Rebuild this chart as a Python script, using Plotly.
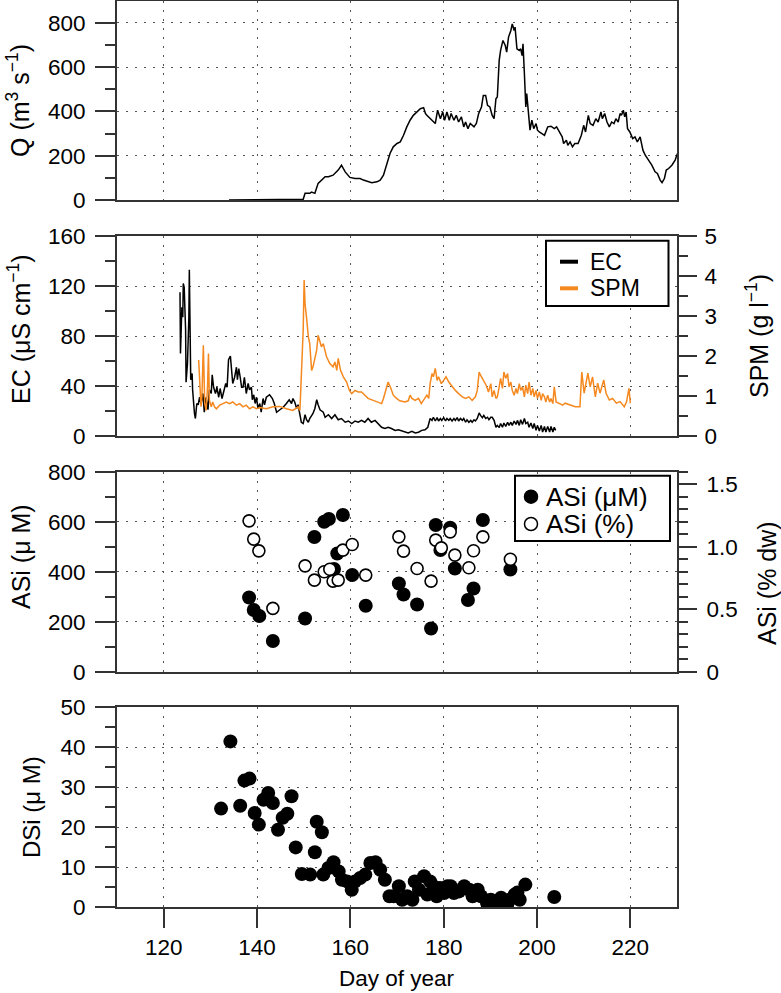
import plotly.graph_objects as go

# ---------------- data ----------------
q_day = [134.0, 149.7, 149.9, 150.3, 151.3, 151.7, 152.4, 153.1, 153.8, 154.6, 155.3, 156.3, 157.4, 158.1,
         158.9, 159.9, 161.0, 162.1, 162.8, 163.9, 164.6, 165.7, 166.4, 167.1, 167.8, 168.5, 169.2, 170.0,
         170.7, 171.4, 172.1, 172.8, 173.5, 174.3, 175.0, 175.7, 176.1, 176.4, 177.1, 177.8, 178.2, 178.7,
         179.3, 179.8, 180.2, 180.7, 181.2, 181.6, 182.2, 182.7, 183.2, 183.8, 184.3, 184.7, 185.2, 185.7,
         186.5, 187.0, 187.5, 188.1, 188.5, 189.0, 189.4, 189.9, 190.4, 190.8, 191.2, 191.5, 191.9, 192.2,
         192.7, 193.2, 193.5, 193.9, 194.4, 194.7, 195.1, 195.3, 195.7, 196.2, 196.5, 196.8, 197.0, 197.3,
         197.6, 197.8, 198.1, 198.5, 198.9, 199.3, 199.8, 200.1, 200.5, 201.1, 201.6, 202.3, 203.0, 203.7,
         204.2, 204.8, 205.4, 205.7, 206.3, 206.6, 207.1, 207.6, 208.1, 208.8, 209.5, 210.0, 210.4, 211.0,
         211.4, 212.0, 212.6, 213.1, 213.7, 214.0, 214.5, 215.0, 215.5, 216.0, 216.5, 216.9, 217.4, 217.8,
         218.1, 218.5, 218.8, 219.1, 219.4, 219.9, 220.5, 221.0, 221.5, 222.1, 222.7, 223.2, 223.9, 224.6,
         225.3, 225.8, 226.4, 226.8, 227.3, 227.7, 228.2, 228.9, 229.6, 230.1]
q_val = [0, 0, 3, 30, 30, 36, 30, 75, 90, 105, 105, 112, 135, 157,
         127, 102, 97, 97, 90, 82, 78, 82, 90, 112, 165, 210, 240, 255,
         262, 292, 330, 360, 382, 397, 412, 417, 390, 382, 367, 352, 345, 405,
         367, 397, 360, 397, 360, 390, 360, 382, 352, 375, 330, 352, 322, 345,
         330, 345, 390, 420, 472, 472, 427, 420, 382, 367, 457, 465, 630, 675,
         720, 697, 667, 735, 765, 795, 765, 780, 682, 675, 682, 652, 705, 570,
         420, 480, 390, 315, 360, 322, 345, 315, 307, 300, 292, 330, 333, 322,
         330, 307, 285, 255, 270, 247, 262, 240, 255, 255, 292, 337, 307, 382,
         345, 337, 367, 352, 397, 367, 390, 352, 330, 352, 345, 367, 352, 390,
         382, 405, 375, 397, 322, 307, 277, 285, 262, 285, 225, 202, 180, 157,
         127, 120, 90, 78, 97, 135, 142, 157, 180, 210]

ec_day = [123.5, 123.6, 123.9, 124.1, 124.2, 124.4, 124.7, 124.8, 125.1, 125.4, 125.5, 125.7, 125.8, 126.1,
          126.2, 126.6, 126.8, 127.1, 127.4, 127.7, 128.0, 128.4, 128.7, 129.1, 129.5, 129.8, 130.2, 130.4,
          130.7, 131.1, 131.4, 131.8, 132.1, 132.5, 132.9, 133.3, 133.6, 133.9, 134.3, 134.6, 134.8, 135.2,
          135.6, 135.8, 136.1, 136.4, 136.7, 137.0, 137.3, 137.7, 138.1, 138.4, 138.8, 139.0, 139.3, 139.6,
          139.9, 140.2, 140.6, 140.9, 141.3, 141.6, 142.0, 142.7, 143.3, 143.7, 144.2, 144.9, 145.6, 146.3,
          146.9, 147.4, 147.7, 148.1, 148.5, 148.8, 149.2, 149.5, 149.9, 150.3, 150.6, 151.0, 151.3, 152.0,
          152.4, 152.8, 153.1, 153.5, 154.2, 154.6, 155.3, 156.0, 156.7, 157.4, 158.1, 158.9, 159.6, 160.3,
          161.0, 161.7, 162.4, 163.1, 163.8, 164.5, 165.3, 166.0, 166.7, 167.4, 168.1, 168.8, 169.6, 170.3,
          171.0, 171.7, 172.4, 173.2, 173.9, 174.6, 175.3, 176.0, 176.6, 177.1, 177.5, 177.8, 178.2, 178.6,
          178.9, 179.3, 179.6, 180.0, 180.4, 180.7, 181.1, 181.4, 181.8, 182.2, 182.5, 182.9, 183.2, 183.6,
          184.0, 184.3, 184.7, 185.0, 185.4, 185.8, 186.1, 186.5, 186.8, 187.2, 187.6, 187.9, 188.3, 188.6,
          189.0, 189.4, 189.7, 190.1, 190.4, 190.8, 191.2, 191.5, 191.9, 192.2, 192.6, 192.9, 193.3, 193.7,
          194.0, 194.4, 194.7, 195.1, 195.5, 195.8, 196.2, 196.5, 196.9, 197.3, 197.6, 198.0, 198.3, 198.7,
          199.1, 199.4, 199.8, 200.1, 200.5, 200.9, 201.2, 201.6, 201.9, 202.3, 202.7, 203.0, 203.4, 203.7,
          204.0]
ec_val = [115, 66, 103, 95, 122, 119, 85, 43, 58, 95, 133, 85, 45, 50,
          37, 18, 14, 26, 25, 31, 26, 34, 19, 31, 21, 37, 34, 49,
          39, 34, 39, 31, 38, 30, 37, 42, 39, 61, 64, 53, 42, 47,
          55, 45, 54, 47, 39, 39, 47, 34, 42, 37, 39, 29, 33, 26,
          31, 22, 26, 19, 30, 25, 31, 33, 30, 26, 19, 21, 23, 26,
          29, 26, 30, 27, 22, 25, 17, 11, 10, 17, 13, 11, 14, 18,
          22, 29, 25, 21, 19, 15, 17, 14, 17, 13, 14, 11, 12, 10,
          12, 11, 12.5, 11, 14, 11, 12.5, 10, 7, 6, 7, 6, 4.5, 5,
          4, 3, 2.4, 3.7, 2.4, 3, 4.5, 5, 7, 14, 12.5, 15, 12, 14.7,
          12, 14, 12.5, 14.7, 12, 14, 12.5, 14, 12, 14, 12.5, 14.7, 12, 14,
          12.5, 14, 11, 13, 11, 12.5, 11, 13, 12, 14, 18.4, 16.5, 14.7, 16.5,
          14, 15, 13, 15, 15, 12.5, 7, 8.5, 6.7, 10, 7, 10.4, 7.7, 11,
          8.5, 11, 8.5, 12, 9.3, 12.5, 8.5, 13, 9.3, 14, 10, 11, 7, 10.4,
          6, 10, 4.5, 8.5, 4, 8.5, 3.2, 7.7, 3.2, 7.7, 3.2, 7.7, 3.2, 7,
          4.5]

spm_day = [127.5, 127.7, 128.0, 128.2, 128.5, 128.8, 129.1, 129.4, 129.6, 129.8, 130.2, 130.5, 130.9, 131.3,
           132.0, 132.7, 133.4, 134.1, 134.8, 135.6, 136.3, 137.0, 137.7, 138.4, 139.1, 139.9, 140.6, 142.0,
           143.4, 144.9, 146.3, 147.7, 148.8, 149.2, 149.5, 149.9, 150.1, 150.3, 150.6, 151.0, 151.3, 151.7,
           152.0, 152.4, 152.8, 153.1, 153.5, 153.8, 154.2, 154.9, 155.6, 156.3, 156.7, 157.1, 157.4, 157.9,
           158.5, 159.2, 159.8, 160.3, 161.0, 161.7, 162.4, 163.1, 163.8, 164.9, 166.0, 166.7, 167.1, 167.6,
           168.1, 168.7, 169.2, 169.9, 170.6, 171.7, 172.4, 172.8, 173.2, 173.9, 174.6, 175.2, 175.7, 176.4,
           176.8, 177.1, 177.5, 177.8, 178.2, 178.6, 178.9, 179.5, 180.0, 180.5, 181.1, 181.8, 182.5, 183.2,
           184.0, 184.7, 185.4, 186.1, 186.8, 187.2, 187.6, 187.9, 188.3, 188.6, 189.1, 189.6, 190.1, 190.4,
           190.8, 191.2, 191.5, 191.9, 192.2, 192.6, 192.9, 193.3, 193.7, 194.0, 194.4, 194.7, 195.1, 195.5,
           195.8, 196.2, 196.5, 196.9, 197.3, 197.6, 198.0, 198.3, 198.7, 199.1, 199.4, 199.8, 200.1, 200.5,
           200.9, 201.2, 201.6, 201.9, 202.3, 202.7, 203.0, 203.4, 203.7, 204.1, 204.8, 205.5, 206.0, 208.2,
           209.2, 209.6, 210.1, 210.9, 211.4, 211.9, 212.5, 213.0, 213.5, 214.3, 214.8, 215.5, 216.2, 217.0,
           217.8, 218.7, 219.2, 219.7, 220.0]
spm_val = [1.9, 1.23, 0.73, 0.98, 2.27, 0.81, 0.64, 1.23, 2.06, 0.89, 0.73, 0.85, 0.73, 0.68,
           0.77, 0.81, 0.85, 0.81, 0.85, 0.77, 0.81, 0.73, 0.77, 0.68, 0.73, 0.68, 0.71, 0.68,
           0.73, 0.74, 0.68, 0.64, 0.73, 0.64, 1.39, 2.65, 3.9, 3.3, 2.98, 2.48, 2.31, 1.64,
           1.73, 1.98, 2.15, 2.52, 2.35, 2.23, 2.31, 1.98, 1.81, 1.73, 1.85, 1.64, 1.94, 1.64,
           1.48, 1.35, 1.14, 1.06, 1.14, 1.1, 1.1, 1.02, 0.94, 0.89, 0.85, 0.81, 0.94, 1.14,
           1.35, 1.19, 1.02, 0.94, 0.88, 0.85, 0.88, 1.02, 0.94, 0.89, 0.94, 0.81, 0.89, 1.02,
           0.94, 1.31, 1.56, 1.48, 1.69, 1.39, 1.48, 1.31, 1.39, 1.48, 1.35, 1.23, 1.14, 1.06,
           0.98, 0.94, 0.98, 0.89, 0.98, 1.14, 1.6, 1.52, 1.44, 1.35, 1.27, 1.1, 1.31, 0.98,
           1.14, 0.94, 0.98, 1.23, 1.44, 1.19, 1.6, 1.44, 1.56, 1.23, 1.35, 1.14, 1.02, 1.19,
           1.06, 1.31, 1.14, 1.23, 0.98, 1.27, 1.06, 1.35, 1.02, 1.19, 0.98, 1.14, 0.94, 1.1,
           0.89, 1.06, 0.98, 0.85, 1.02, 0.85, 0.94, 0.81, 1.23, 0.85, 0.81, 0.77, 0.82, 0.73,
           0.73, 1.6, 1.07, 1.57, 1.23, 1.48, 0.98, 1.32, 1.07, 1.4, 1.07, 0.9, 0.94, 0.82,
           0.86, 0.73, 0.86, 1.19, 0.82]

asi_day = [138.3, 139.3, 140.5, 143.4, 150.3, 152.3, 154.4, 155.4, 156.5, 157.2, 158.4, 160.4, 163.3,
           170.4, 171.4, 174.3, 177.3, 178.3, 179.3, 181.4, 182.4, 185.2, 186.4, 188.4, 194.3]
asi_um = [297, 247, 223, 123, 213, 539, 600, 611, 411, 473, 627, 387, 264,
          353, 309, 269, 173, 587, 487, 576, 413, 287, 333, 607, 409]

asip_day = [138.3, 139.3, 140.4, 143.4, 150.3, 152.3, 154.4, 155.6, 156.3, 157.4, 158.4, 160.4, 163.3,
            170.4, 171.4, 174.3, 177.3, 178.3, 179.5, 181.4, 182.4, 185.4, 186.4, 188.4, 194.3]
asi_pct = [1.207, 1.061, 0.967, 0.507, 0.847, 0.733, 0.80, 0.82, 0.725, 0.733, 0.973, 1.018, 0.773,
           1.079, 0.965, 0.826, 0.725, 1.053, 0.991, 1.119, 0.933, 0.832, 0.968, 1.079, 0.90]

dsi_day = [132.3, 134.3, 136.4, 137.3, 138.4, 139.5, 140.4, 141.4, 142.4, 143.4, 144.5, 145.5, 146.5, 147.4,
           148.3, 149.6, 151.4, 152.4, 152.8, 153.9, 154.2, 155.3, 156.4, 157.5, 158.2, 159.3, 160.3, 161.0,
           162.1, 163.2, 164.3, 165.4, 166.4, 167.4, 168.4, 169.3, 170.4, 171.1, 172.2, 173.3, 173.8, 174.7,
           175.8, 176.5, 177.1, 177.8, 178.5, 179.2, 180.1, 180.8, 181.5, 182.2, 183.3, 184.4, 185.5, 186.2,
           187.3, 188.0, 189.3, 189.5, 190.1, 191.2, 192.3, 193.4, 193.6, 194.1, 195.2, 195.8, 196.3, 197.5,
           203.7]
dsi_val = [24.6, 41.4, 25.3, 31.6, 32.1, 23.5, 20.6, 26.8, 28.5, 26.0, 19.3, 22.3, 23.3, 27.7,
           14.9, 8.25, 8.1, 13.7, 21.3, 18.7, 8.1, 9.75, 11.2, 8.9, 6.8, 6.4, 4.3, 6.4,
           7.25, 8.1, 11.0, 11.2, 9.3, 6.8, 2.7, 2.7, 5.2, 1.8, 2.7, 1.8, 6.4, 4.3,
           7.7, 3.1, 6.4, 5.2, 2.7, 4.75, 3.5, 5.2, 5.2, 3.5, 3.9, 5.2, 4.3, 2.7,
           4.3, 2.7, 1.0, 0.3, 1.8, 1.4, 2.3, 1.0, 0.5, 1.8, 3.1, 3.6, 1.8, 5.6,
           2.5]

x_ticks = [120, 140, 160, 180, 200, 220]

# ---------------- geometry helpers ----------------
W, H = 781, 993
ML, MR, MT, MB = 117, 104, 1, 86
PW = W - ML - MR
PH = H - MT - MB


def px_x(p):
    return (p - ML) / PW


def px_y(p):
    return (H - MB - p) / PH


FONT = "Liberation Sans, Arial, Helvetica, sans-serif"
AX = "#333333"
GRID = "#555555"
ORANGE = "#F5891F"
TICKSIZE = 22.5

fig = go.Figure()

fig.add_trace(go.Scatter(x=q_day, y=q_val, mode="lines", line=dict(color="black", width=1.5),
                         xaxis="x", yaxis="y", showlegend=False, name="Q"))
fig.add_trace(go.Scatter(x=ec_day, y=ec_val, mode="lines", line=dict(color="black", width=1.5),
                         xaxis="x2", yaxis="y2", showlegend=False, name="EC"))
fig.add_trace(go.Scatter(x=spm_day, y=spm_val, mode="lines", line=dict(color=ORANGE, width=1.5),
                         xaxis="x2", yaxis="y5", showlegend=False, name="SPM"))
fig.add_trace(go.Scatter(x=asi_day, y=asi_um, mode="markers",
                         marker=dict(color="black", size=14, line=dict(width=0)),
                         xaxis="x3", yaxis="y3", showlegend=False, name="ASi (μM)"))
fig.add_trace(go.Scatter(x=asip_day, y=asi_pct, mode="markers",
                         marker=dict(color="white", size=12, line=dict(color="black", width=1.6)),
                         xaxis="x3", yaxis="y6", showlegend=False, name="ASi (%)"))
fig.add_trace(go.Scatter(x=dsi_day, y=dsi_val, mode="markers",
                         marker=dict(color="black", size=14, line=dict(width=0)),
                         xaxis="x4", yaxis="y4", showlegend=False, name="DSi"))

# panel pixel extents (top, bottom)
panels = {1: (1, 200), 2: (236, 436), 3: (471.7, 671.7), 4: (707, 907)}


def dom(k):
    t, b = panels[k]
    return [px_y(b), px_y(t)]


common_x = dict(range=[110, 230], showline=True, mirror=True, linecolor=AX, linewidth=2,
                showgrid=True, gridcolor=GRID, gridwidth=1.4, griddash="2px,7px",
                tickvals=x_ticks, zeroline=False, domain=[0, 1], automargin=False)


def yax(k, rng, dtick, minor, anchor):
    return dict(domain=dom(k), range=rng, dtick=dtick, tick0=0, showline=True, mirror=True,
                linecolor=AX, linewidth=2, showgrid=True, gridcolor=GRID, gridwidth=1.4,
                griddash="2px,7px", zeroline=False, ticks="outside", ticklen=20, tickwidth=2,
                tickcolor=AX, anchor=anchor, ticklabelstandoff=5, automargin=False,
                tickfont=dict(size=TICKSIZE, family=FONT, color="black"),
                minor=dict(ticks="outside", ticklen=10, tickwidth=2, tickcolor=AX,
                           dtick=minor, tick0=0, showgrid=False))


layout = dict(
    width=W, height=H, margin=dict(l=ML, r=MR, t=MT, b=MB, pad=0, autoexpand=False),
    paper_bgcolor="white", plot_bgcolor="white",
    font=dict(family=FONT, size=22, color="black"),
    showlegend=False,
)
layout["xaxis"] = dict(common_x, anchor="y", showticklabels=False, ticks="")
layout["xaxis2"] = dict(common_x, anchor="y2", showticklabels=False, ticks="")
layout["xaxis3"] = dict(common_x, anchor="y3", showticklabels=False, ticks="")
layout["xaxis4"] = dict(common_x, anchor="y4", showticklabels=True, ticks="outside", ticklen=19,
                        tickwidth=2, tickcolor=AX, ticklabelstandoff=0,
                        tickfont=dict(size=TICKSIZE, family=FONT, color="black"))
layout["yaxis"] = yax(1, [0, 898], 200, 100, "x")
layout["yaxis2"] = yax(2, [0, 160], 40, 20, "x2")
layout["yaxis3"] = yax(3, [0, 800], 200, 100, "x3")
layout["yaxis4"] = yax(4, [0, 50], 10, 5, "x4")
layout["yaxis5"] = dict(domain=dom(2), range=[0, 5], overlaying="y2", side="right", anchor="x2",
                        dtick=1, tick0=0, showgrid=False, zeroline=False, showline=False,
                        ticks="outside", ticklen=19, tickwidth=2, tickcolor=AX, ticklabelstandoff=3,
                        automargin=False,
                        tickfont=dict(size=TICKSIZE, family=FONT, color="black"),
                        minor=dict(ticks="outside", ticklen=10, tickwidth=2, tickcolor=AX,
                                   dtick=0.5, tick0=0, showgrid=False))
layout["yaxis6"] = dict(domain=dom(3), range=[0, 1.6], overlaying="y3", side="right", anchor="x3",
                        tickmode="array", tickvals=[0, 0.5, 1.0, 1.5], ticktext=["0", "0.5", "1.0", "1.5"],
                        showgrid=False, zeroline=False, showline=False,
                        ticks="outside", ticklen=19, tickwidth=2, tickcolor=AX, ticklabelstandoff=5,
                        automargin=False,
                        tickfont=dict(size=TICKSIZE, family=FONT, color="black"),
                        minor=dict(ticks="outside", ticklen=10, tickwidth=2, tickcolor=AX,
                                   tickmode="linear", dtick=0.1, tick0=0, showgrid=False))
fig.update_layout(**layout)


# ---------------- axis titles ----------------
def title(text, xp, yp, size=22):
    fig.add_annotation(text=text, xref="paper", yref="paper", x=px_x(xp), y=px_y(yp),
                       textangle=-90, showarrow=False, xanchor="center", yanchor="middle",
                       font=dict(size=size, family=FONT, color="black"))


title("Q (m<sup>3</sup> s<sup>−1</sup>)", 18, 101, 25)
title("EC (μS cm<sup>−1</sup>)", 19, 329, 25)
title("ASi (μ M)", 21, 557, 25)
title("DSi (μ M)", 31, 807, 24)
title("SPM (g l<sup>−1</sup>)", 757, 336, 25)
title("ASi (% dw)", 767, 583, 25)
fig.add_annotation(text="Day of year", xref="paper", yref="paper", x=px_x(397), y=px_y(978),
                   showarrow=False, xanchor="center", yanchor="middle",
                   font=dict(size=22.5, family=FONT, color="black"))

# ---------------- legends ----------------
shapes = []
# EC / SPM legend box
shapes.append(dict(type="rect", xref="paper", yref="paper", x0=px_x(546), x1=px_x(668.5),
                   y0=px_y(306), y1=px_y(240.7), line=dict(color="black", width=2),
                   fillcolor="white", layer="above"))
for yy, col, lab in [(261.7, "black", "EC"), (288.3, ORANGE, "SPM")]:
    shapes.append(dict(type="line", xref="paper", yref="paper", x0=px_x(560), x1=px_x(578),
                       y0=px_y(yy), y1=px_y(yy), line=dict(color=col, width=4), layer="above"))
    fig.add_annotation(text=lab, xref="paper", yref="paper", x=px_x(588), y=px_y(yy),
                       showarrow=False, xanchor="left", yanchor="middle",
                       font=dict(size=23, family=FONT, color="black"))
# ASi legend box
shapes.append(dict(type="rect", xref="paper", yref="paper", x0=px_x(515), x1=px_x(670),
                   y0=px_y(541), y1=px_y(475.7), line=dict(color="black", width=2),
                   fillcolor="white", layer="above"))
for yy, fill, lab in [(496.7, "black", "ASi (μM)"), (524, "white", "ASi (%)")]:
    shapes.append(dict(type="circle", xref="paper", yref="paper", xsizemode="pixel", ysizemode="pixel",
                       xanchor=px_x(531), yanchor=px_y(yy), x0=-6.5, x1=6.5, y0=-6.5, y1=6.5,
                       fillcolor=fill, line=dict(color="black", width=1.5), layer="above"))
    fig.add_annotation(text=lab, xref="paper", yref="paper", x=px_x(544), y=px_y(yy),
                       showarrow=False, xanchor="left", yanchor="middle",
                       font=dict(size=26, family=FONT, color="black"))
fig.update_layout(shapes=shapes)

# remove the browser's default 8px page margin so the figure sits at the window's corner
fig.write_html("out.html", config={"displayModeBar": False},
               post_script="document.body.style.margin='0';")
